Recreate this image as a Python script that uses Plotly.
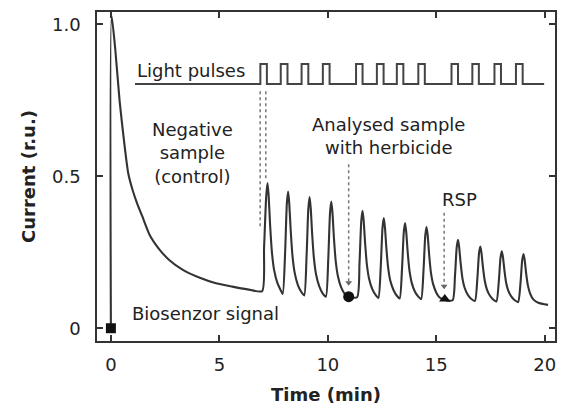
import plotly.graph_objects as go

# ---------------- data ----------------
# biosensor current (r.u.) vs time (min)
CURRENT_T = [
    0.0, 0.03, 0.2, 0.4, 0.6, 0.8, 1.0, 1.2, 1.45, 1.8, 2.25, 2.7, 3.3, 4.1, 4.8, 5.6, 6.3, 6.97,
    7.06, 7.16, 7.22, 7.27, 7.34, 7.42, 7.52, 7.67, 7.82, 7.92,
    8.03, 8.11, 8.17, 8.22, 8.29, 8.37, 8.47, 8.62, 8.77, 8.91,
    9.02, 9.10, 9.16, 9.21, 9.28, 9.36, 9.46, 9.61, 9.76, 9.91,
    10.02, 10.10, 10.16, 10.21, 10.28, 10.36, 10.46, 10.61, 10.76, 10.96, 11.35,
    11.46, 11.54, 11.60, 11.65, 11.72, 11.80, 11.90, 12.05, 12.20, 12.33,
    12.44, 12.52, 12.58, 12.63, 12.70, 12.78, 12.88, 13.03, 13.18, 13.31,
    13.42, 13.50, 13.56, 13.61, 13.68, 13.76, 13.86, 14.01, 14.16, 14.30,
    14.41, 14.49, 14.55, 14.60, 14.67, 14.75, 14.85, 15.00, 15.15, 15.39, 15.75,
    15.86, 15.94, 16.00, 16.05, 16.12, 16.20, 16.30, 16.45, 16.60, 16.78,
    16.89, 16.97, 17.03, 17.08, 17.15, 17.23, 17.33, 17.48, 17.63, 17.77,
    17.88, 17.96, 18.02, 18.07, 18.14, 18.22, 18.32, 18.47, 18.62, 18.77,
    18.88, 18.96, 19.02, 19.07, 19.14, 19.22, 19.32, 19.47, 19.70, 20.15,
]
CURRENT_I = [
    0.0, 1.03, 0.92, 0.75, 0.62, 0.51, 0.455, 0.413, 0.368, 0.305, 0.258, 0.224, 0.193, 0.166, 0.149, 0.137, 0.128, 0.122,
    0.264, 0.435, 0.478, 0.438, 0.339, 0.252, 0.193, 0.150, 0.126, 0.113,
    0.248, 0.410, 0.450, 0.412, 0.320, 0.238, 0.183, 0.142, 0.120, 0.108,
    0.238, 0.393, 0.432, 0.396, 0.307, 0.229, 0.176, 0.137, 0.115, 0.104,
    0.229, 0.379, 0.417, 0.383, 0.298, 0.223, 0.173, 0.135, 0.115, 0.104, 0.102,
    0.216, 0.353, 0.387, 0.355, 0.278, 0.209, 0.163, 0.129, 0.110, 0.100,
    0.205, 0.331, 0.363, 0.334, 0.262, 0.199, 0.156, 0.125, 0.107, 0.098,
    0.197, 0.316, 0.346, 0.319, 0.251, 0.191, 0.151, 0.121, 0.105, 0.096,
    0.191, 0.305, 0.333, 0.307, 0.242, 0.184, 0.146, 0.117, 0.101, 0.093, 0.092,
    0.172, 0.267, 0.291, 0.269, 0.215, 0.166, 0.134, 0.110, 0.097, 0.090,
    0.162, 0.248, 0.269, 0.249, 0.200, 0.157, 0.128, 0.106, 0.094, 0.088,
    0.154, 0.233, 0.253, 0.235, 0.190, 0.149, 0.123, 0.103, 0.092, 0.086,
    0.149, 0.225, 0.244, 0.226, 0.181, 0.141, 0.115, 0.095, 0.084, 0.077,
]

# light pulse train (drawn as a trace above the signal)
LIGHT_START, LIGHT_END = 1.11, 19.97
LIGHT_LOW, LIGHT_HIGH = 0.804, 0.870
LIGHT_ON = [6.89, 7.83, 8.79, 9.77, 11.30, 12.26, 13.18, 14.17, 15.70, 16.66, 17.68, 18.67]
LIGHT_OFF = [7.19, 8.14, 9.10, 10.08, 11.60, 12.57, 13.48, 14.47, 16.00, 16.96, 17.98, 18.98]

# markers
START_POINT = (0.0, 0.0)         # square: biosensor signal start
ANALYSED_POINT = (10.96, 0.104)  # circle: analysed sample added
RSP_POINT = (15.39, 0.096)       # triangle: RSP

# dotted guide lines: x, top, bottom, with arrowhead?
GUIDE_X = [6.88, 7.14, 10.96, 15.36]
GUIDE_TOP = [0.78, 0.78, 0.54, 0.38]
GUIDE_BOTTOM = [0.33, 0.49, 0.15, 0.138]
GUIDE_ARROW = [False, False, True, True]

X_TICKS = [0, 5, 10, 15, 20]
Y_TICKS = [0, 0.5, 1.0]
Y_TICK_TEXT = ["0", "0.5", "1.0"]

FONT = "DejaVu Sans"
INK = "#222222"
LINE = "#333333"

fig = go.Figure()

# light pulses
lx, ly = [LIGHT_START], [LIGHT_LOW]
for on, off in zip(LIGHT_ON, LIGHT_OFF):
    lx += [on, on, off, off]
    ly += [LIGHT_LOW, LIGHT_HIGH, LIGHT_HIGH, LIGHT_LOW]
lx.append(LIGHT_END)
ly.append(LIGHT_LOW)
fig.add_trace(go.Scatter(x=lx, y=ly, mode="lines",
                         line=dict(color="#444444", width=2), hoverinfo="skip"))

# dotted guides
for gx, gt, gb, ga in zip(GUIDE_X, GUIDE_TOP, GUIDE_BOTTOM, GUIDE_ARROW):
    fig.add_trace(go.Scatter(x=[gx, gx], y=[gt, gb], mode="lines",
                             line=dict(color="#777777", width=1.5, dash="dot"),
                             hoverinfo="skip"))
    if ga:
        fig.add_trace(go.Scatter(x=[gx], y=[gb], mode="markers",
                                 marker=dict(symbol="triangle-down", size=6, color="#666666"),
                                 hoverinfo="skip"))

# current signal
fig.add_trace(go.Scatter(x=CURRENT_T, y=CURRENT_I, mode="lines",
                         line=dict(color=LINE, width=2.1, shape="spline", smoothing=0.6)))

# markers
fig.add_trace(go.Scatter(x=[START_POINT[0]], y=[START_POINT[1]], mode="markers",
                         marker=dict(symbol="square", size=10, color="#111111")))
fig.add_trace(go.Scatter(x=[ANALYSED_POINT[0]], y=[ANALYSED_POINT[1]], mode="markers",
                         marker=dict(symbol="circle", size=11, color="#111111")))
fig.add_trace(go.Scatter(x=[RSP_POINT[0]], y=[RSP_POINT[1]], mode="markers",
                         marker=dict(symbol="triangle-up", size=10, color="#111111")))

ann_font = dict(family=FONT, size=18, color=INK)
annotations = [
    dict(x=3.7, y=0.848, text="Light pulses", xanchor="center", yanchor="middle"),
    dict(x=3.75, y=0.578, text="Negative<br>sample<br>(control)", xanchor="center", yanchor="middle"),
    dict(x=12.8, y=0.632, text="Analysed sample<br>with herbicide", xanchor="center", yanchor="middle"),
    dict(x=16.05, y=0.423, text="RSP", xanchor="center", yanchor="middle"),
    dict(x=0.88, y=0.047, text="Biosenzor signal", xanchor="left", yanchor="middle"),
]
for a in annotations:
    a.update(xref="x", yref="y", showarrow=False, font=ann_font)

axis_common = dict(showline=True, linecolor=LINE, linewidth=1.5, mirror="ticks",
                   ticks="inside", ticklen=6, tickwidth=1.5, tickcolor=LINE,
                   showgrid=False, zeroline=False, ticklabeloverflow="allow",
                   tickfont=dict(family=FONT, size=18, color=INK))

fig.update_layout(
    width=561, height=410,
    margin=dict(l=97, r=4, t=12, b=69),
    paper_bgcolor="white", plot_bgcolor="white",
    showlegend=False,
    annotations=annotations,
    xaxis=dict(range=[-0.64, 20.47], tickvals=X_TICKS, ticklabelstandoff=7,
               title=dict(text="<b>Time (min)</b>", font=dict(family=FONT, size=18, color=INK), standoff=14),
               **axis_common),
    yaxis=dict(range=[-0.042, 1.041], tickvals=Y_TICKS, ticktext=Y_TICK_TEXT, ticklabelstandoff=11,
               title=dict(text="<b>Current (r.u.)</b>", font=dict(family=FONT, size=18, color=INK), standoff=12),
               **axis_common),
)

fig.write_html("out.html", config={"displayModeBar": False},
               post_script="document.body.style.margin='0';")
